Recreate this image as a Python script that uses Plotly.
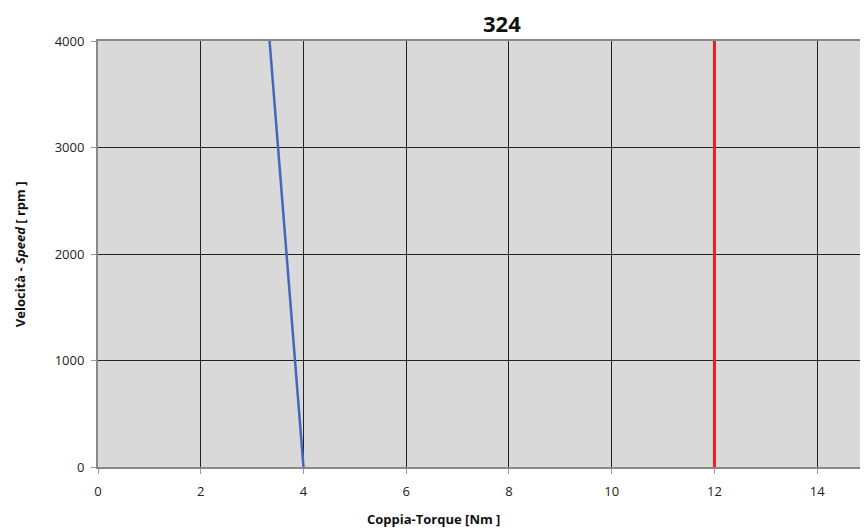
import plotly.graph_objects as go

# characteristic curve (torque vs speed)
curve_torque = [4.0, 3.34]
curve_speed = [0, 4000]

# limit torque line
limit_torque = [12, 12]
limit_speed = [0, 4000]

x_ticks = [0, 2, 4, 6, 8, 10, 12, 14]
y_ticks = [0, 1000, 2000, 3000, 4000]

FONT = "Open Sans, Lato, sans-serif"

fig = go.Figure()
fig.add_trace(go.Scatter(x=curve_torque, y=curve_speed, mode="lines",
                         line=dict(color="#4466bb", width=2.5), showlegend=False))
fig.add_trace(go.Scatter(x=limit_torque, y=limit_speed, mode="lines",
                         line=dict(color="#ee1c25", width=3), showlegend=False))

axis_style = dict(
    showline=True, linecolor="#888888", linewidth=2, mirror=True,
    showgrid=True, gridcolor="#222222", gridwidth=1.3,
    ticks="outside", tickcolor="#999999", ticklen=5, tickwidth=1,
    zeroline=False,
    tickfont=dict(family=FONT, size=13, color="#222222"),
)

fig.update_xaxes(range=[0, 14.95], tickvals=x_ticks, ticklabelstandoff=6, **axis_style)
fig.update_yaxes(range=[0, 4000], tickvals=y_ticks, ticklabelstandoff=4, **axis_style)

# the page body adds an 8px offset, so the figure is sized to fit the window
fig.update_layout(
    width=860, height=523,
    margin=dict(l=90, r=0, t=33, b=64),
    plot_bgcolor="#d9d9d9", paper_bgcolor="white",
    annotations=[
        dict(text="<b>324</b>", xref="paper", yref="paper",
             x=(503 - 98) / 770, y=1 + 18 / 426, xanchor="center", yanchor="middle",
             showarrow=False, font=dict(family=FONT, size=22, color="#111111")),
        dict(text="<b>Coppia-Torque [Nm ]</b>", xref="paper", yref="paper",
             x=(434 - 98) / 770, y=-52 / 426, xanchor="center", yanchor="middle",
             showarrow=False, font=dict(family=FONT, size=13, color="#111111")),
        dict(text="<b>Velocità - <i>Speed</i> [ rpm ]</b>", xref="paper", yref="paper",
             x=-78 / 770, y=0.5, xanchor="center", yanchor="middle", textangle=-90,
             showarrow=False, font=dict(family=FONT, size=13, color="#111111")),
    ],
)

fig.write_html("out.html")
